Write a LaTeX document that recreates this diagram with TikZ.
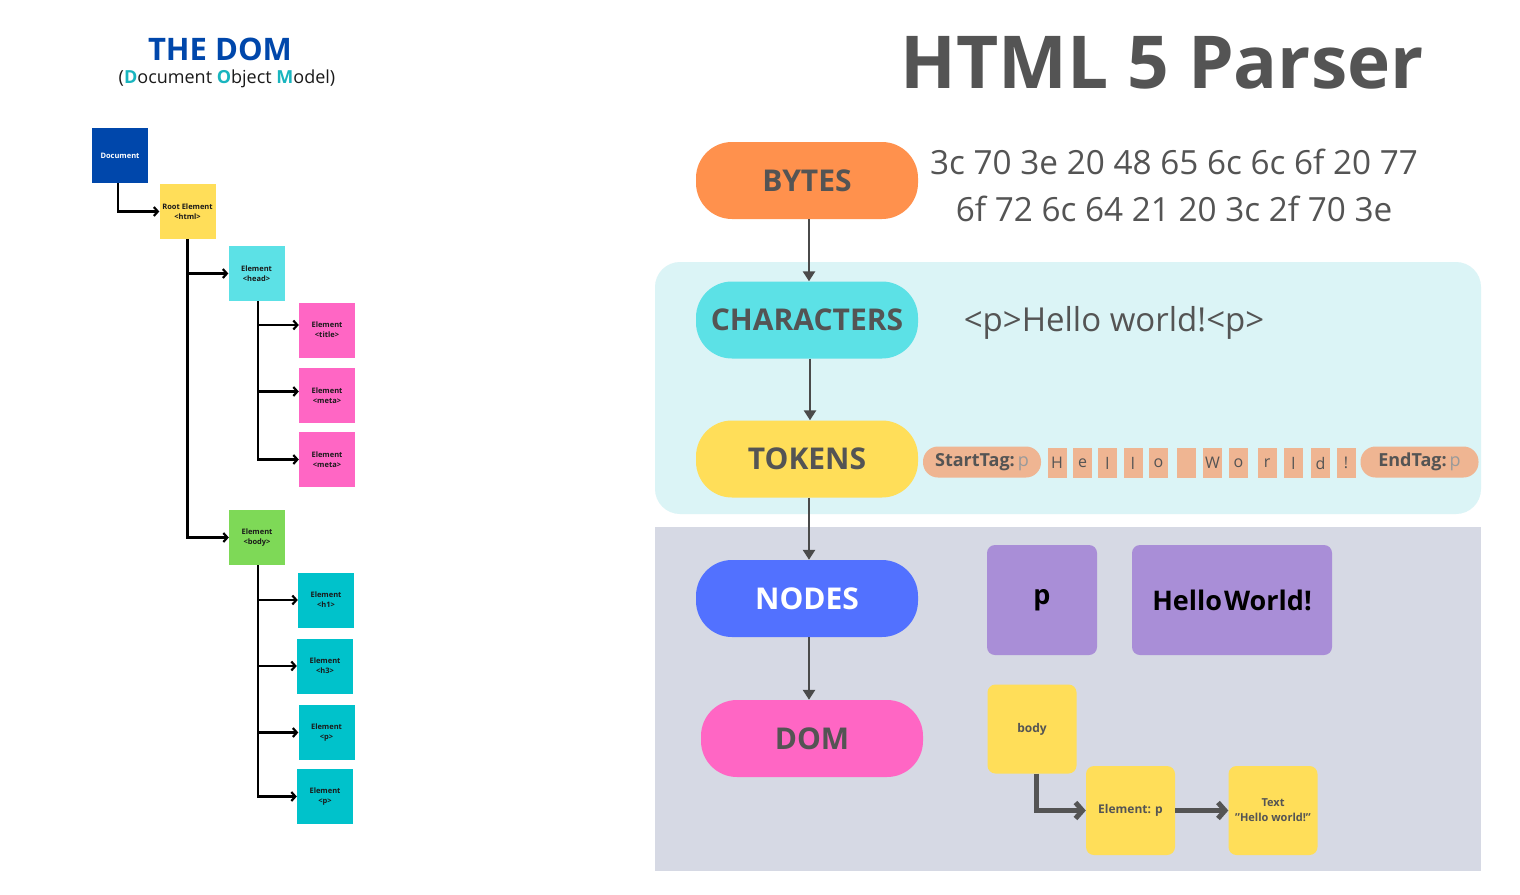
\documentclass[tikz,border=0pt]{standalone}
\usepackage{fontspec}
\setmainfont{Open Sans}
\usetikzlibrary{arrows.meta}
\definecolor{domblue}{HTML}{0047AB}
\definecolor{domteal}{HTML}{19B5BF}
\definecolor{cyellow}{HTML}{FFDE59}
\definecolor{ccyan}{HTML}{5CE1E6}
\definecolor{cpink}{HTML}{FF66C4}
\definecolor{cgreen}{HTML}{7ED957}
\definecolor{cteal}{HTML}{00C2CB}
\definecolor{corange}{HTML}{FF914D}
\definecolor{cblue}{HTML}{5271FF}
\definecolor{panelA}{HTML}{DBF4F6}
\definecolor{panelB}{HTML}{D6D9E4}
\definecolor{tokfill}{HTML}{EFB592}
\definecolor{cpurp}{HTML}{A98ED7}
\definecolor{pgrey}{HTML}{545454}
\definecolor{agrey}{HTML}{4A4A4A}
\definecolor{lgrey}{HTML}{9A9A9A}
\definecolor{tdark}{HTML}{1A1A1A}
\tikzset{
 tbox/.style={minimum width=56pt, minimum height=55pt, inner sep=0pt, align=center, font=\fontsize{7.5}{10}\selectfont\bfseries, text=tdark},
 tarrow/.style={line width=2.2pt, draw=black, -{Straight Barb[length=4pt,width=9pt]}},
 pill/.style={rounded corners=36pt, minimum width=222pt, minimum height=77pt, inner sep=0pt, font=\fontsize{30}{36}\selectfont\bfseries, text=pgrey},
 parrow/.style={line width=2.5pt, draw=agrey, -{Triangle[length=10pt,width=12pt]}},
 tokpill/.style={fill=tokfill, rounded corners=15pt, minimum width=118pt, minimum height=31pt, inner sep=0pt, font=\fontsize{18}{20}\selectfont, text=pgrey},
 tokbox/.style={fill=tokfill, minimum width=19pt, minimum height=30pt, inner sep=0pt, font=\fontsize{16}{18}\selectfont, text=pgrey},
 nbox/.style={fill=cpurp, rounded corners=8pt, minimum height=110pt, inner sep=0pt, font=\fontsize{27}{30}\selectfont\bfseries, text=black},
 dbox/.style={fill=cyellow, rounded corners=8pt, minimum width=89pt, minimum height=89pt, inner sep=0pt, align=center, font=\fontsize{12}{14}\selectfont\bfseries, text=pgrey},
 darrow/.style={line width=5pt, draw=pgrey, -{Straight Barb[length=7pt,width=16pt]}},
}
\begin{document}
\begin{tikzpicture}[x=1pt,y=-1pt]
\useasboundingbox[fill=white] (0,0) rectangle (1520,894);

% ---------- left: the DOM tree ----------
\node[anchor=base, text=domblue, font=\fontsize{31}{36}\selectfont\bfseries] (domtitle) at (220,60) {THE DOM};
\node[anchor=base, text=tdark, font=\fontsize{18}{22}\selectfont] (domsub) at (227,83)
  {({\bfseries\color{domteal}D}ocument {\bfseries\color{domteal}O}bject {\bfseries\color{domteal}M}odel)};

\node[tbox, fill=domblue, text=white] (doc) at (120,155.5) {Document};
\node[tbox, fill=cyellow] (root) at (187.5,211.5) {Root Element\\<html>};
\node[tbox, fill=ccyan] (head) at (256.5,273.5) {Element\\<head>};
\node[tbox, fill=cpink] (title) at (327,330) {Element\\<title>};
\node[tbox, fill=cpink] (meta1) at (327,395.5) {Element\\<meta>};
\node[tbox, fill=cpink] (meta2) at (327,459.5) {Element\\<meta>};
\node[tbox, fill=cgreen] (body) at (257,537.5) {Element\\<body>};
\node[tbox, fill=cteal] (h1) at (326,600) {Element\\<h1>};
\node[tbox, fill=cteal] (h3) at (325,666) {Element\\<h3>};
\node[tbox, fill=cteal] (p1) at (326.5,732.5) {Element\\<p>};
\node[tbox, fill=cteal] (p2) at (325,796.5) {Element\\<p>};

\draw[tarrow] ([xshift=-2]doc.south) |- (root.west);
\draw[tarrow] (root.south) |- (head.west);
\draw[tarrow] (root.south) |- (body.west);
\draw[tarrow] ([xshift=1.5]head.south) |- ([yshift=5]title.west);
\draw[tarrow] ([xshift=1.5]head.south) |- ([yshift=4]meta1.west);
\draw[tarrow] ([xshift=1.5]head.south) |- (meta2.west);
\draw[tarrow] ([xshift=1]body.south) |- (h1.west);
\draw[tarrow] ([xshift=1]body.south) |- (h3.west);
\draw[tarrow] ([xshift=1]body.south) |- (p1.west);
\draw[tarrow] ([xshift=1]body.south) |- (p2.west);

% ---------- right: HTML 5 parser ----------
\fill[panelA, rounded corners=25pt] (655,262) rectangle (1481,514);
\fill[panelB] (655,527) rectangle (1481,871);

\node[anchor=base, text=pgrey, font=\fontsize{73}{80}\selectfont\bfseries] (ptitle) at (1162,88) {HTML 5 Parser};

\node[pill, fill=corange] (bytes) at (807,180.5) {BYTES};
\node[pill, fill=ccyan] (chars) at (807,320) {CHARACTERS};
\node[pill, fill=cyellow] (tokens) at (807,459) {TOKENS};
\node[pill, fill=cblue, text=white] (nodes) at (807,598.5) {NODES};
\node[pill, fill=cpink] (dom) at (812,738.5) {DOM};

\draw[parrow] ([xshift=2]bytes.south) -- ([xshift=2]chars.north);
\draw[parrow] ([xshift=3]chars.south) -- ([xshift=3]tokens.north);
\draw[parrow] ([xshift=2]tokens.south) -- ([xshift=2]nodes.north);
\draw[parrow] ([xshift=2]nodes.south) -- ([xshift=2]nodes.south |- dom.north);

\node[anchor=base, text=pgrey, font=\fontsize{33.3}{40}\selectfont] (hex1) at (1174,174) {3c 70 3e 20 48 65 6c 6c 6f 20 77};
\node[anchor=base, text=pgrey, font=\fontsize{33.3}{40}\selectfont] (hex2) at (1174,221) {6f 72 6c 64 21 20 3c 2f 70 3e};

\node[anchor=base, text=pgrey, font=\fontsize{33}{38}\selectfont] (chtext) at (1114,331) {<p>Hello world!<p>};

\node[tokpill] (start) at (982,462) {{\bfseries StartTag:}\,{\color{lgrey}p}};
\foreach \ch/\cx [count=\i] in {H/1057,e/1082.5,l/1107.5,l/1133,o/1158.5,{}/1186.5,W/1212.5,o/1238.5,r/1267,l/1293.5,d/1320.5,!/1346}
  \node[tokbox] (tk\i) at (\cx,463) {\ch};
\node[tokpill] (endtag) at (1419.5,462) {{\bfseries EndTag:}\,{\color{lgrey}p}};

\node[nbox, minimum width=110pt] (np) at (1042,600) {p};
\node[nbox, minimum width=200pt] (nhello) at (1232,600) {Hello\hspace{2pt}World!};

\node[dbox] (dbody) at (1032,729) {body};
\node[dbox] (delp) at (1130.5,810.5) {Element: p};
\node[dbox, font=\fontsize{11}{15}\selectfont\bfseries] (dtext) at (1273,810.5) {Text\\\char34 Hello world!\char34};

\draw[darrow] ([xshift=4]dbody.south) |- (delp.west);
\draw[darrow] (delp.east) -- (dtext.west);
\end{tikzpicture}
\end{document}
